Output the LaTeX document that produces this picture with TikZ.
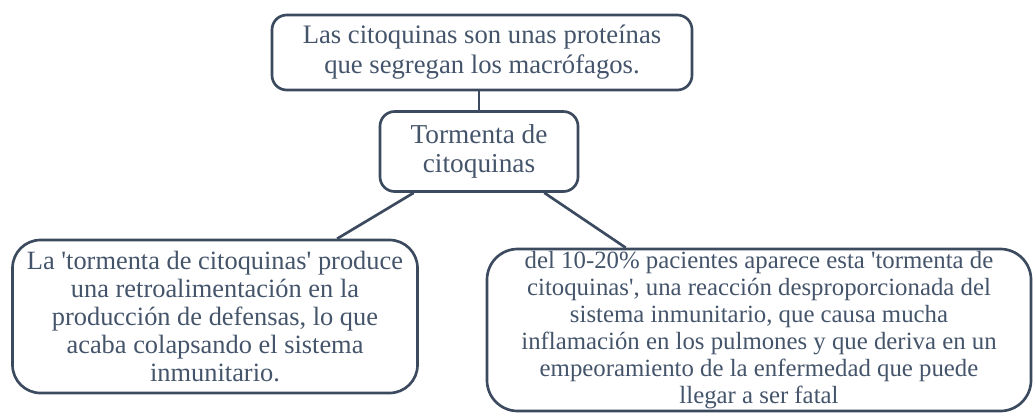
\documentclass[tikz,border=0pt]{standalone}
\usepackage{fontspec}
\setmainfont{Liberation Serif}
\newfontfamily\serf{Liberation Serif}
\usetikzlibrary{calc}
\definecolor{txtc}{HTML}{44546A}
\definecolor{linec}{HTML}{3B4A5E}
\begin{document}
\begin{tikzpicture}[x=0.75pt,y=-0.75pt,
  box/.style={draw=linec, line width=2pt, text=txtc, align=center, inner sep=0pt},
  conn/.style={draw=linec, line width=2pt}]
\useasboundingbox (0,0) rectangle (1034,412);
\node[box, rounded corners=11pt, minimum width=315pt, minimum height=56.25pt,
  font=\serf\fontsize{20pt}{22.5pt}\selectfont] (b1) at (482,52.5)
  {Las citoquinas son unas proteínas\\que segregan los macrófagos.};
\node[box, rounded corners=11pt, minimum width=148.5pt, minimum height=60pt,
  font=\serf\fontsize{20.5pt}{22pt}\selectfont] (b2) at (479,151.5)
  {Tormenta de\\citoquinas};
\node[box, rounded corners=21pt, minimum width=303.75pt, minimum height=114.75pt,
  font=\serf\fontsize{19.8pt}{21pt}\selectfont] (b3) at (215,316.5)
  {La 'tormenta de citoquinas' produce\\una retroalimentación en la\\producción de defensas, lo que\\acaba colapsando el sistema\\inmunitario.};
\node[box, rounded corners=23pt, minimum width=408pt, minimum height=121.5pt,
  font=\serf\fontsize{18.6pt}{20.2pt}\selectfont] (b4) at (759,330)
  {del 10-20\% pacientes aparece esta 'tormenta de\\citoquinas', una reacción desproporcionada del\\sistema inmunitario, que causa mucha\\inflamación en los pulmones y que deriva en un\\empeoramiento de la enfermedad que puede\\llegar a ser fatal};
\draw[conn] (b2.north) -- (b2.north |- b1.south);
\draw[conn] ($(b2.south west)+(35,0)$) -- ($(b3.north west)+(326,0)$);
\draw[conn] ($(b2.south east)+(-35,0)$) -- ($(b4.north west)+(140,0)$);
\end{tikzpicture}
\end{document}
